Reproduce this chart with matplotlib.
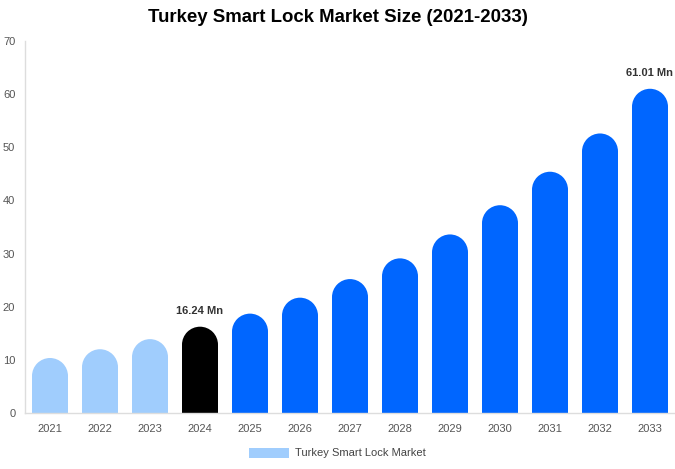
import matplotlib
matplotlib.use("Agg")
import matplotlib.pyplot as plt
from matplotlib.patches import Ellipse, Patch

years = ["2021", "2022", "2023", "2024", "2025", "2026", "2027",
         "2028", "2029", "2030", "2031", "2032", "2033"]
values = [10.35, 12.0, 13.9, 16.24, 18.7, 21.7, 25.2, 29.1, 33.6, 39.1, 45.4, 52.6, 61.01]
colors = ["#a0cdfd"] * 3 + ["#000000"] + ["#0066ff"] * 9
labels = {3: "16.24 Mn", 12: "61.01 Mn"}
legend_label = "Turkey Smart Lock Market"

plt.rcParams['font.family'] = ['Liberation Sans', 'DejaVu Sans']

W, H = 675, 469
fig = plt.figure(figsize=(W / 100, H / 100), dpi=100)
ax = fig.add_axes([25 / W, 56 / H, 650 / W, 372 / H])
ax.set_xlim(-0.5, len(years) - 0.5)
ax.set_ylim(0, 70)

bw = 0.72
# semicircle radius in data units (x and y differ)
ax_w_px = 650
ax_h_px = 372
rx = bw / 2
r_px = rx * ax_w_px / len(years)
ry = r_px * 70 / ax_h_px

xs = list(range(len(years)))
ax.bar(xs, [v - ry for v in values], width=bw, color=colors, linewidth=0, zorder=2)
for x, v, c in zip(xs, values, colors):
    ax.add_patch(Ellipse((x, v - ry), bw, 2 * ry, facecolor=c, edgecolor='none', zorder=2))

for i, t in labels.items():
    ax.text(i, values[i] + 2.0, t, ha='center', va='bottom', fontsize=8,
            fontweight='bold', color='#333333')

ax.set_xticks(xs)
ax.set_xticklabels(years)
ax.set_yticks(range(0, 71, 10))
ax.tick_params(axis='both', length=0, labelsize=8, colors='#555555')
ax.tick_params(axis='x', pad=8)
ax.tick_params(axis='y', pad=7)
for s in ['top', 'right']:
    ax.spines[s].set_visible(False)
for s in ['left', 'bottom']:
    ax.spines[s].set_color('#dddddd')
    ax.spines[s].set_linewidth(1)

fig.text(0.5, 1 - 18 / H, "Turkey Smart Lock Market Size (2021-2033)", ha='center',
         va='center', fontsize=13.4, fontweight='bold', color='#000000')

fig.legend(handles=[Patch(facecolor="#a0cdfd", edgecolor='none', label=legend_label)],
           loc='center', bbox_to_anchor=(0.5, 1 - 453 / H), frameon=False,
           fontsize=8, handlelength=3.6, handleheight=1.0, handletextpad=0.5,
           labelcolor='#444444')

fig.savefig("out.png", dpi=100)
